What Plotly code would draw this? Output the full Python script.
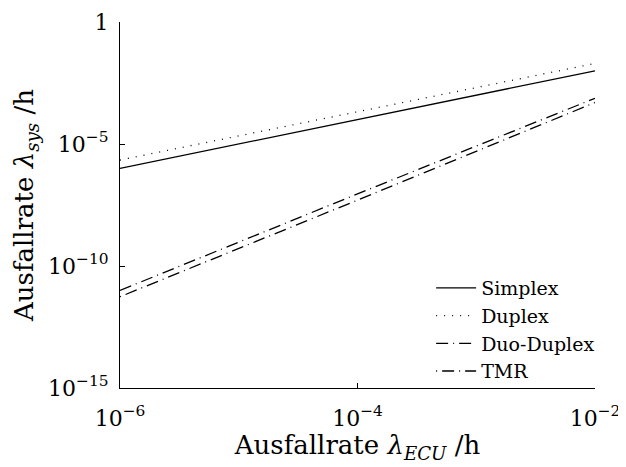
import plotly.graph_objects as go

x_ecu = [1e-6, 1e-4, 1e-2]
simplex = [1e-6, 1e-4, 1e-2]
duplex = [2.2e-6, 2.1e-4, 2e-2]
duo_duplex = [1e-11, 9e-8, 7.5e-4]
tmr = [5.5e-12, 5e-8, 5e-4]

x_tickvals = [1e-6, 1e-4, 1e-2]
x_ticktext = ["10<sup>−6</sup>", "10<sup>−4</sup>", "10<sup>−2</sup>"]
y_tickvals = [1e-15, 1e-10, 1e-5, 1]
y_ticktext = ["10<sup>−15</sup>", "10<sup>−10</sup>", "10<sup>−5</sup>", "1"]

FONT = "DejaVu Serif, serif"
fig = go.Figure()
series = [
    ("Simplex", simplex, "solid"),
    ("Duplex", duplex, "1px,7px"),
    ("Duo-Duplex", duo_duplex, "12px,5px,1px,5px"),
    ("TMR", tmr, "1px,5px,12px,5px"),
]
for name, ys, dash in series:
    fig.add_trace(go.Scatter(x=x_ecu, y=ys, mode="lines", name=name,
                             line=dict(color="black", width=1.3, dash=dash)))

fig.update_layout(
    width=618, height=459,
    margin=dict(l=112, r=31, t=14, b=79, autoexpand=False),
    paper_bgcolor="white", plot_bgcolor="white",
    font=dict(family=FONT, size=22, color="black"),
    showlegend=True,
    legend=dict(x=0.655, y=0.325, xanchor="left", yanchor="top",
                bgcolor="rgba(0,0,0,0)", font=dict(size=19),
                tracegroupgap=0, itemwidth=40),
    xaxis=dict(type="log", range=[-6, -2], tickvals=x_tickvals, ticktext=x_ticktext,
               showgrid=False, zeroline=False, showline=True, linecolor="black",
               linewidth=1.2, ticks="inside", ticklen=5, tickcolor="black",
               ticklabelstandoff=10, automargin=False,
               title=dict(text="Ausfallrate <i>λ<sub>ECU</sub></i> /h", standoff=0,
                          font=dict(size=26))),
    yaxis=dict(type="log", range=[-15, 0], tickvals=y_tickvals, ticktext=y_ticktext,
               showgrid=False, zeroline=False, showline=True, linecolor="black",
               linewidth=1.2, ticks="inside", ticklen=5, tickcolor="black",
               ticklabelstandoff=6, automargin=False,
               title=dict(text="Ausfallrate <i>λ<sub>sys</sub></i> /h", standoff=6,
                          font=dict(size=26))),
)
fig.write_html("out.html")
